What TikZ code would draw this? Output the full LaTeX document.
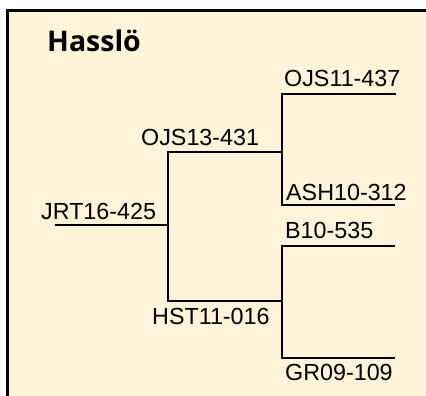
\documentclass[tikz,border=0pt]{standalone}
\usepackage{fontspec}
\setmainfont{Liberation Sans}
\newfontfamily\titlefont{Open Sans}
\usepackage{xcolor}
\usepackage{tikz}
\definecolor{cream}{HTML}{FFF4DA}

\begin{document}
\begin{tikzpicture}[x=1pt, y=1pt,
    label/.style={inner sep=0pt, anchor=base west, font=\fontsize{23.3}{27}\selectfont},
    branch/.style={line width=2pt, black}]
    \clip (0,0) rectangle (426,-396);

    % Frame
    \draw[line width=3pt, fill=cream] (7.5,-10.5) rectangle (440,-410);
    \node[inner sep=0pt, anchor=base west, font=\titlefont\bfseries\fontsize{28.5}{34}\selectfont] (title) at (47,-52) {Hasslö};

    % Junction points
    \coordinate (r0) at (55,-225);
    \coordinate (r1) at (168,-225);
    \coordinate (p0) at (168,-152);
    \coordinate (p1) at (282,-152);
    \coordinate (q0) at (168,-301);
    \coordinate (q1) at (282,-301);
    \coordinate (u0) at (282,-94);
    \coordinate (u1) at (396,-94);
    \coordinate (v0) at (282,-205);
    \coordinate (v1) at (395,-205);
    \coordinate (w0) at (282,-246);
    \coordinate (w1) at (395,-246);
    \coordinate (z0) at (282,-358);
    \coordinate (z1) at (395,-358);

    % Branches
    \draw[branch] (r0) -- (r1);
    \draw[branch] (p1) -- (p0) -- (q0) -- (q1);
    \draw[branch] (u1) -- (u0) -- (v0) -- (v1);
    \draw[branch] (w1) -- (w0) -- (z0) -- (z1);

    % Labels
    \node[label] (jrt) at (41,-219) {JRT16-425};
    \node[label] (ojs13) at (141,-146) {OJS13-431};
    \node[label] (hst) at (152,-324) {HST11-016};
    \node[label] (ojs11) at (284,-87) {OJS11-437};
    \node[label] (ash) at (286,-200) {ASH10-312};
    \node[label] (b10) at (285,-238) {B10-535};
    \node[label] (gr09) at (285,-380) {GR09-109};
\end{tikzpicture}
\end{document}
